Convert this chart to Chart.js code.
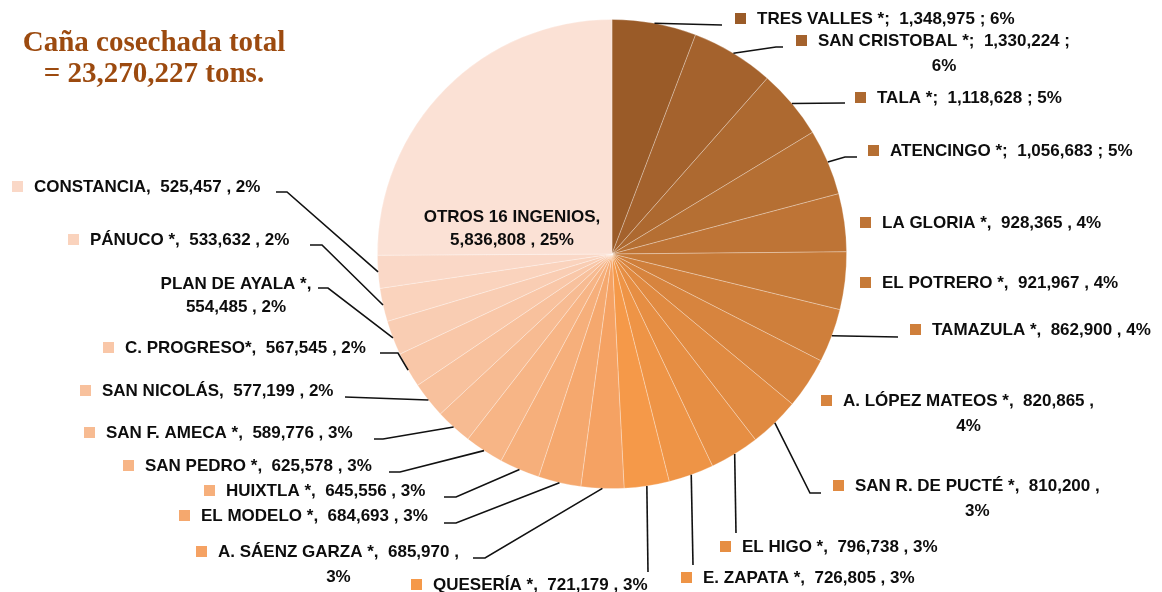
<!DOCTYPE html>
<html>
<head>
<meta charset="utf-8">
<script src="https://cdn.jsdelivr.net/npm/chart.js@4.4.1/dist/chart.umd.min.js"></script>
<style>
  body { margin: 0; background: #fff; }
  #wrap { position: relative; width: 1162px; height: 592px; }
  #titulo {
    position: absolute; left: 10px; top: 26px; width: 288px;
    text-align: center; font: bold 29px "Liberation Serif", "Times New Roman", serif;
    line-height: 31px; color: #9c4a0f;
  }
</style>
</head>
<body>
<div id="wrap">
  <canvas id="grafica" width="1162" height="592"></canvas>
  <div id="titulo">Caña cosechada total<br>= 23,270,227 tons.</div>
</div>
<script>
// ingenios, en el orden en que se dibujan (desde arriba, sentido horario)
const ingenios = ['TRES VALLES *', 'SAN CRISTOBAL *', 'TALA *', 'ATENCINGO *', 'LA GLORIA *',
  'EL POTRERO *', 'TAMAZULA *', 'A. LÓPEZ MATEOS *', 'SAN R. DE PUCTÉ *', 'EL HIGO *',
  'E. ZAPATA *', 'QUESERÍA *', 'A. SÁENZ GARZA *', 'EL MODELO *', 'HUIXTLA *', 'SAN PEDRO *',
  'SAN F. AMECA *', 'SAN NICOLÁS', 'C. PROGRESO*', 'PLAN DE AYALA *', 'PÁNUCO *', 'CONSTANCIA',
  'OTROS 16 INGENIOS'];
const toneladas = [1348975, 1330224, 1118628, 1056683, 928365, 921967, 862900, 820865, 810200,
  796738, 726805, 721179, 685970, 684693, 645556, 625578, 589776, 577199, 567545, 554485,
  533632, 525457, 5836808];
const separador = [';', ';', ';', ';', ',', ',', ',', ',', ',', ',', ',', ',', ',', ',', ',', ',',
  ',', ',', ',', ',', ',', ',', ','];
const colores = ['#9a5b28', '#a4622d', '#ad6930', '#b56f33', '#be7436', '#c67a38', '#cf7f3b',
  '#d7843e', '#e08a41', '#e68e43', '#ee9446', '#f59949', '#f5a263', '#f5a86e', '#f6af7b',
  '#f7b586', '#f7bb92', '#f8c19d', '#f9c7a8', '#f9cdb3', '#fad3bd', '#fad8c7', '#fbe1d5'];

// posicion de cada etiqueta: sx = cuadrito, y = centro de la 1a linea,
// wrap: 0 una linea, 1 porcentaje abajo, 2 corte despues del nombre
// path = codo / final de la linea guia (sale del arco)
const etiquetas = [
  {sx: 735, y: 19, wrap: 0, path: [[722, 25]]},
  {sx: 796, y: 41, wrap: 1, path: [[776, 47], [783, 47]]},
  {sx: 855, y: 98, wrap: 0, path: [[845, 103]]},
  {sx: 868, y: 151, wrap: 0, path: [[845, 157], [857, 157]]},
  {sx: 860, y: 223, wrap: 0},
  {sx: 860, y: 283, wrap: 0},
  {sx: 910, y: 330, wrap: 0, path: [[898, 337]]},
  {sx: 821, y: 401, wrap: 1},
  {sx: 833, y: 486, wrap: 1, path: [[810, 493], [821, 493]]},
  {sx: 720, y: 547, wrap: 0, path: [[736, 533]]},
  {sx: 681, y: 578, wrap: 0, path: [[693, 565]]},
  {sx: 411, y: 585, wrap: 0, path: [[648, 572]]},
  {sx: 196, y: 552, wrap: 1, path: [[485, 558], [473, 558]]},
  {sx: 179, y: 516, wrap: 0, path: [[456, 523], [444, 523]]},
  {sx: 204, y: 491, wrap: 0, path: [[456, 497], [444, 497]]},
  {sx: 123, y: 466, wrap: 0, path: [[400, 472], [389, 472]]},
  {sx: 84, y: 433, wrap: 0, path: [[383, 439], [374, 439]]},
  {sx: 80, y: 391, wrap: 0, path: [[345, 397]]},
  {sx: 103, y: 348, wrap: 0, path: [[398, 353], [380, 353]]},
  {cx: 236, y: 284, wrap: 2, path: [[328, 288], [318, 288]]},
  {sx: 68, y: 240, wrap: 0, path: [[322, 245], [310, 245]]},
  {sx: 12, y: 187, wrap: 0, path: [[287, 192], [276, 192]]},
  {cx: 512, y: 217, wrap: 2}
];

const total = toneladas.reduce((a, b) => a + b, 0);
const fuente = 'bold 17px "Liberation Sans Narrow", "Arial Narrow", sans-serif';

function textoEtiqueta(i, wrap) {
  const s = separador[i];
  const v = toneladas[i].toLocaleString('en-US');
  const p = Math.round(toneladas[i] / total * 100) + '%';
  if (wrap === 1) return [ingenios[i] + s + '  ' + v + ' ' + s, p];
  if (wrap === 2) return [ingenios[i] + s, v + ' ' + s + ' ' + p];
  return [ingenios[i] + s + '  ' + v + ' ' + s + ' ' + p];
}

const etiquetasPie = {
  id: 'etiquetasPie',
  afterDatasetsDraw(chart) {
    const ctx = chart.ctx;
    const meta = chart.getDatasetMeta(0);
    ctx.save();
    ctx.font = fuente;
    ctx.textBaseline = 'middle';
    ctx.strokeStyle = '#111';
    ctx.lineWidth = 1.6;
    meta.data.forEach((arc, i) => {
      const L = etiquetas[i];
      const a = arc.getProps(['x', 'y', 'startAngle', 'endAngle', 'outerRadius'], true);
      const mid = (a.startAngle + a.endAngle) / 2;
      const px = a.x + Math.cos(mid) * a.outerRadius;
      const py = a.y + Math.sin(mid) * a.outerRadius;
      if (L.path) {
        ctx.beginPath();
        ctx.moveTo(px, py);
        L.path.forEach(p => ctx.lineTo(p[0], p[1]));
        ctx.stroke();
      }
      const lineas = textoEtiqueta(i, L.wrap);
      ctx.fillStyle = '#0d0d0d';
      if (L.sx !== undefined) {
        const tx = L.sx + 22;
        ctx.textAlign = 'left';
        ctx.fillText(lineas[0], tx, L.y);
        if (lineas[1]) {
          const w = ctx.measureText(lineas[0]).width;
          ctx.textAlign = 'center';
          ctx.fillText(lineas[1], tx + w / 2, L.y + 25);
        }
        ctx.fillStyle = colores[i];
        ctx.fillRect(L.sx, L.y - 6, 11, 11);
      } else {
        ctx.textAlign = 'center';
        ctx.fillText(lineas[0], L.cx, L.y);
        if (lineas[1]) ctx.fillText(lineas[1], L.cx, L.y + 23);
      }
    });
    ctx.restore();
  }
};

new Chart(document.getElementById('grafica'), {
  type: 'pie',
  data: {
    labels: ingenios,
    datasets: [{
      data: toneladas,
      backgroundColor: colores,
      borderColor: 'rgba(255,255,255,0.35)',
      borderWidth: 0.8
    }]
  },
  options: {
    responsive: false,
    animation: false,
    layout: { padding: { left: 377, right: 315, top: 19, bottom: 103 } },
    plugins: {
      legend: { display: false },
      tooltip: { enabled: false }
    }
  },
  plugins: [etiquetasPie]
});
</script>
</body>
</html>
